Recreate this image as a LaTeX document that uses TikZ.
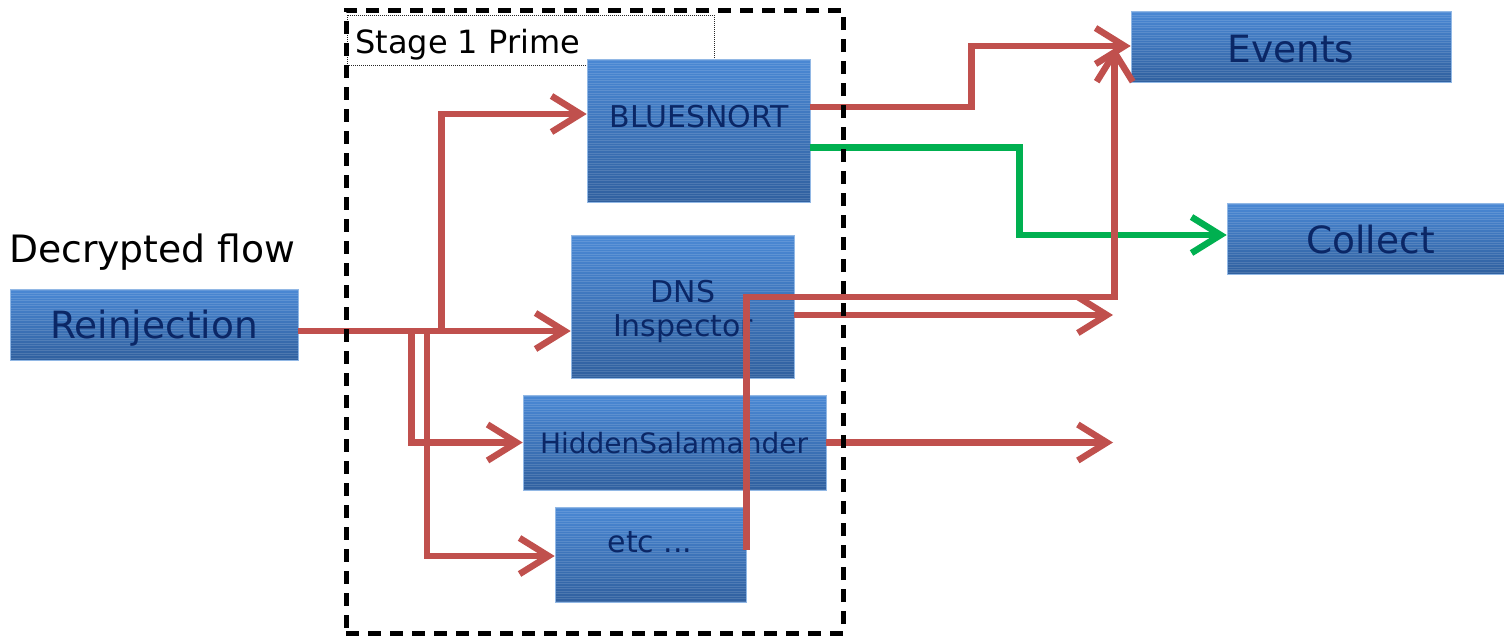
\documentclass[tikz,border=0pt]{standalone}
\usepackage{fontspec}
\setmainfont{DejaVu Sans}
\usetikzlibrary{arrows.meta}
\definecolor{flowred}{HTML}{C0504D}
\definecolor{flowgreen}{HTML}{00B050}
\definecolor{boxtop}{HTML}{4A88D4}
\definecolor{boxbot}{HTML}{30609F}
\definecolor{navy}{HTML}{0B2766}
\tikzset{
  bluebox/.style={rectangle, inner sep=0pt, top color=boxtop, bottom color=boxbot,
    draw=boxtop!60!white, line width=0.6pt,
    path picture={\foreach \i in {1.5,4,...,150}{\draw[white,opacity=0.13,line width=0.6pt]
      ([yshift=-\i pt]path picture bounding box.north west) -- ([yshift=-\i pt]path picture bounding box.north east);}}},
  boxtext/.style={text=navy, inner sep=0pt, anchor=base},
  bigtext/.style={font=\fontsize{37.5}{42}\selectfont},
  midtext/.style={font=\fontsize{30}{34}\selectfont},
  redflow/.style={draw=flowred, line width=6.5pt},
  greenflow/.style={draw=flowgreen, line width=6.5pt},
  barb/.style={-{Straight Barb[length=29pt,width=36pt]}},
  stagebox/.style={draw=black, line width=5pt, dash pattern=on 13pt off 9pt, inner sep=0pt},
  lblbox/.style={draw=black!85, line width=1pt, dash pattern=on 1pt off 1pt, inner sep=0pt},
}
\begin{document}
\begin{tikzpicture}[x=1pt,y=-1pt]
\useasboundingbox (0,0) rectangle (1504,637);
% label box of stage
\node[lblbox, minimum width=367pt, minimum height=50pt] (stagelbl) at (530.5,40) {};
\node[anchor=base west, inner sep=0pt, font=\fontsize{32}{36}\selectfont] (stagetxt) at (355,53) {Stage 1 Prime};
% boxes
\node[bluebox, minimum width=288pt, minimum height=71pt] (reinj) at (154,324.5) {};
\node[bluebox, minimum width=223pt, minimum height=143pt] (blue) at (698.5,130.5) {};
\node[bluebox, minimum width=223pt, minimum height=143pt] (dns) at (682.5,306.5) {};
\node[bluebox, minimum width=303pt, minimum height=95pt] (hidden) at (674.5,442.5) {};
\node[bluebox, minimum width=191pt, minimum height=95pt] (etcb) at (650.5,554.5) {};
\node[bluebox, minimum width=320pt, minimum height=71pt] (events) at (1291,46.5) {};
\node[bluebox, minimum width=277pt, minimum height=71pt] (collect) at (1365.5,238.5) {};
% texts
\node[anchor=base west, inner sep=0pt, font=\fontsize{37.7}{42}\selectfont] (dflow) at (9,262) {Decrypted flow};
\node[boxtext, bigtext] (treinj) at (154,338) {Reinjection};
\node[boxtext, midtext] (tblue) at (699,127) {BLUESNORT};
\node[boxtext, midtext] (tdns1) at (683,302) {DNS};
\node[boxtext, midtext] (tdns2) at (683,336) {Inspector};
\node[boxtext, font=\fontsize{28}{32}\selectfont] (thidden) at (674,453) {HiddenSalamander};
\node[boxtext, midtext] (tetc) at (650,552) {etc ...};
\node[boxtext, bigtext] (tevents) at (1291,62) {Events};
\node[boxtext, bigtext] (tcollect) at (1370.5,253) {Collect};
% free ends
\coordinate (evin) at ([xshift=-16pt]events.west);
\coordinate (dnsout) at (1113,315);
\coordinate (hidout) at (1113,442.5);
% red flows from reinjection
\draw[redflow, barb] ([yshift=-6.5pt]reinj.east) -- ([yshift=-24.5pt]dns.west);
\draw[redflow, barb] ([yshift=-6.5pt]reinj.east) -- ++(143,0) |- ([yshift=16.5pt]blue.west);
\draw[redflow, barb] ([yshift=-6.5pt]reinj.east) -- ++(113,0) |- (hidden.west);
\draw[redflow, barb] ([yshift=-6.5pt]reinj.east) -- ++(128.5,0) |- ([yshift=-1.5pt]etcb.west);
% outputs
\draw[redflow, barb] ([yshift=23.5pt]blue.east) -- ++(161,0) |- ([yshift=0.5pt]events.west);
\draw[greenflow, barb] ([yshift=-17pt]blue.east) -- ++(209,0) |- ([yshift=3.5pt]collect.west);
\draw[redflow, barb] ([yshift=4.5pt]etcb.east) -- ++(0,-253) -| (evin);
\draw[redflow, barb] ([yshift=-8.5pt]dns.east) -- (dnsout);
\draw[redflow, barb] (hidden.east) -- (hidout);
% stage boundary
\node[stagebox, minimum width=497pt, minimum height=623pt] (stage) at (594.5,321.5) {};
\end{tikzpicture}
\end{document}
